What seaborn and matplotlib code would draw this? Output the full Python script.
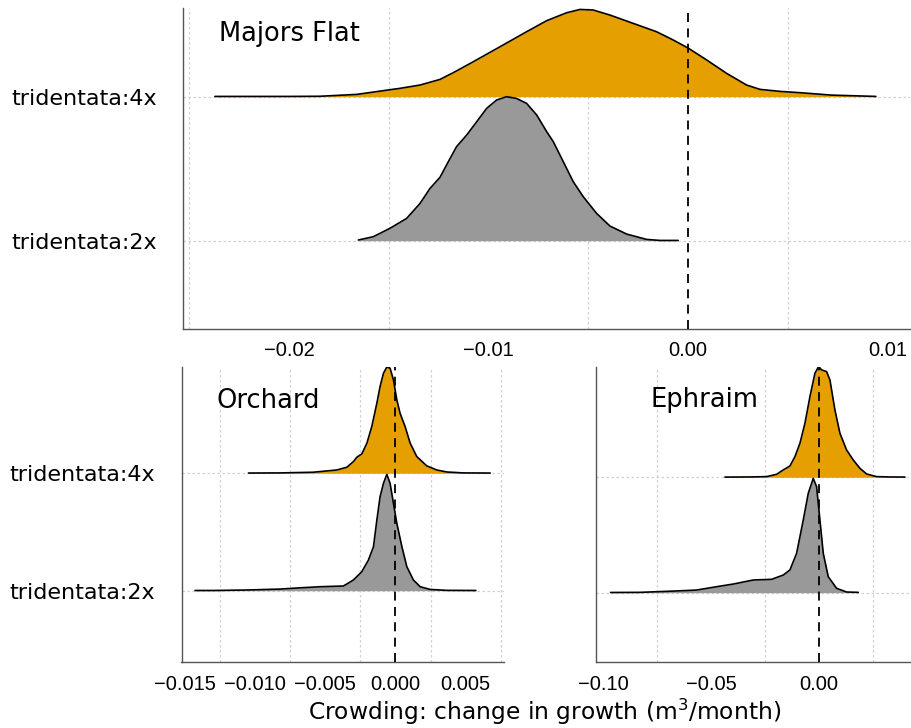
import matplotlib
matplotlib.use("Agg")
import matplotlib.pyplot as plt
import numpy as np
import pandas as pd
import seaborn as sns

# ---------------- data ----------------
ploidy_levels = ["tridentata:2x", "tridentata:4x"]
site_names = ["Majors Flat", "Orchard", "Ephraim"]
ploidy_colors = {"tridentata:4x": "#E69F00", "tridentata:2x": "#999999"}

# Majors Flat
mf_4x_x = [-0.02371, -0.02000, -0.01846, -0.01660, -0.01496, -0.01444, -0.01343, -0.01243,
           -0.01176, -0.01076, -0.00942, -0.00809, -0.00708, -0.00608, -0.00541, -0.00475,
           -0.00391, -0.00274, -0.00157, -0.00074, 0.00003, 0.00094, 0.00194, 0.00294,
           0.00361, 0.00461, 0.00561, 0.00721, 0.00942]
mf_4x_h = [0.002, 0.002, 0.003, 0.016, 0.048, 0.058, 0.081, 0.120,
           0.167, 0.243, 0.347, 0.451, 0.528, 0.583, 0.606, 0.602,
           0.567, 0.509, 0.451, 0.394, 0.336, 0.255, 0.162, 0.081,
           0.051, 0.037, 0.028, 0.011, 0.002]
mf_2x_x = [-0.01652, -0.01577, -0.01494, -0.01410, -0.01343, -0.01293, -0.01243, -0.01201,
           -0.01160, -0.01109, -0.01059, -0.01009, -0.00959, -0.00909, -0.00859, -0.00809,
           -0.00758, -0.00708, -0.00675, -0.00625, -0.00575, -0.00525, -0.00458, -0.00391,
           -0.00307, -0.00207, -0.00140, -0.00049]
mf_2x_h = [0.005, 0.028, 0.086, 0.155, 0.259, 0.363, 0.440, 0.549,
           0.653, 0.734, 0.826, 0.919, 0.977, 1.000, 0.988, 0.954,
           0.873, 0.757, 0.688, 0.549, 0.410, 0.306, 0.190, 0.102,
           0.046, 0.009, 0.002, 0.002]

# Orchard
or_4x_x = [-0.01045, -0.00820, -0.00583, -0.00417, -0.00346, -0.00299, -0.00275, -0.00239,
           -0.00203, -0.00168, -0.00132, -0.00109, -0.00085, -0.00061, -0.00038, -0.00014,
           0.00010, 0.00033, 0.00069, 0.00105, 0.00152, 0.00223, 0.00294, 0.00366,
           0.00484, 0.00674]
or_4x_h = [0.002, 0.003, 0.009, 0.028, 0.051, 0.099, 0.136, 0.165,
           0.256, 0.398, 0.597, 0.739, 0.852, 0.905, 0.895, 0.795,
           0.625, 0.511, 0.398, 0.256, 0.142, 0.063, 0.028, 0.011,
           0.003, 0.002]
or_2x_x = [-0.01425, -0.01294, -0.01057, -0.00820, -0.00701, -0.00536, -0.00370, -0.00346,
           -0.00299, -0.00239, -0.00192, -0.00156, -0.00132, -0.00109, -0.00085, -0.00061,
           -0.00038, -0.00014, 0.00010, 0.00046, 0.00081, 0.00128, 0.00176, 0.00247,
           0.00366, 0.00572]
or_2x_h = [0.002, 0.002, 0.006, 0.014, 0.023, 0.034, 0.040, 0.057,
           0.091, 0.162, 0.261, 0.375, 0.602, 0.801, 0.915, 0.991,
           0.915, 0.744, 0.574, 0.375, 0.205, 0.091, 0.034, 0.011,
           0.003, 0.002]

# Ephraim
ep_4x_x = [-0.04356, -0.03197, -0.02425, -0.01962, -0.01653, -0.01344, -0.01112, -0.00880,
           -0.00649, -0.00417, -0.00185, -0.00015, 0.00124, 0.00355, 0.00510, 0.00741,
           0.00973, 0.01282, 0.01591, 0.01900, 0.02209, 0.02672, 0.03290, 0.03985]
ep_4x_h = [0.002, 0.003, 0.006, 0.026, 0.064, 0.098, 0.179, 0.295,
           0.468, 0.699, 0.902, 0.960, 0.931, 0.916, 0.844, 0.584,
           0.382, 0.237, 0.150, 0.078, 0.029, 0.006, 0.003, 0.002]
ep_2x_x = [-0.09654, -0.08295, -0.06751, -0.05669, -0.04741, -0.03971, -0.03045, -0.02192,
           -0.01653, -0.01344, -0.01035, -0.00726, -0.00494, -0.00263, -0.00108, 0.00046,
           0.00201, 0.00432, 0.00819, 0.01282, 0.01823]
ep_2x_h = [0.002, 0.003, 0.014, 0.023, 0.052, 0.075, 0.110, 0.116,
           0.153, 0.197, 0.341, 0.630, 0.861, 0.991, 0.919, 0.630,
           0.341, 0.139, 0.038, 0.006, 0.003]

mf_ticks = [-0.02, -0.01, 0.00, 0.01]
mf_tick_labels = ["\u22120.02", "\u22120.01", "0.00", "0.01"]
or_ticks = [-0.015, -0.010, -0.005, 0.000, 0.005]
or_tick_labels = ["\u22120.015", "\u22120.010", "\u22120.005", "0.000", "0.005"]
ep_ticks = [-0.10, -0.05, 0.00]
ep_tick_labels = ["\u22120.10", "\u22120.05", "0.00"]

x_label = "Crowding: change in growth (m$^3$/month)"

# ---------------- build table ----------------
curves = {
    ("Majors Flat", "tridentata:4x"): (mf_4x_x, mf_4x_h),
    ("Majors Flat", "tridentata:2x"): (mf_2x_x, mf_2x_h),
    ("Orchard", "tridentata:4x"): (or_4x_x, or_4x_h),
    ("Orchard", "tridentata:2x"): (or_2x_x, or_2x_h),
    ("Ephraim", "tridentata:4x"): (ep_4x_x, ep_4x_h),
    ("Ephraim", "tridentata:2x"): (ep_2x_x, ep_2x_h),
}
rows = []
for (site, ploidy), (xs, hs) in curves.items():
    base = ploidy_levels.index(ploidy) + 1
    for i, (xv, hv) in enumerate(zip(xs, hs)):
        rows.append(dict(site=site, ploidy=ploidy, order=i, x=xv, base=base, y=base + hv))
df = pd.DataFrame(rows)

# ---------------- figure ----------------
sns.set_theme(style="white")
plt.rcParams['font.family'] = ['DejaVu Sans']
plt.rcParams['text.color'] = 'black'

fig = plt.figure(figsize=(9.11, 7.28), dpi=100)
W, H = 911, 728

def px_axes(l, t, r, b):
    return fig.add_axes([l / W, 1 - b / H, (r - l) / W, (b - t) / H])

panels = {
    "Majors Flat": dict(ax=px_axes(183, 8, 910, 329), xlim=(-0.02531, 0.01113), ylim=(0.387, 2.616),
                        ticks=mf_ticks, labels=mf_tick_labels, minor=[-0.025, -0.015, -0.005, 0.005],
                        ylabels=True, title_pos=(0.05, 0.92)),
    "Orchard": dict(ax=px_axes(181.5, 367, 504, 662), xlim=(-0.01521, 0.00772), ylim=(0.393, 2.905),
                    ticks=or_ticks, labels=or_tick_labels, minor=[-0.0125, -0.0075, -0.0025, 0.0025, 0.0075],
                    ylabels=True, title_pos=(0.107, 0.885)),
    "Ephraim": dict(ax=px_axes(596, 367, 910, 662), xlim=(-0.1033, 0.0422), ylim=(0.3995, 2.956),
                    ticks=ep_ticks, labels=ep_tick_labels, minor=[-0.075, -0.025, 0.025],
                    ylabels=False, title_pos=(0.175, 0.888)),
}

grid_kw = dict(color="#d0d0d0", lw=0.9, ls=(0, (2, 2)), zorder=0)

for site in site_names:
    p = panels[site]
    ax = p["ax"]
    ax.set_facecolor("white")
    ax.set_xlim(*p["xlim"])
    ax.set_ylim(*p["ylim"])
    # grid
    for m in p["minor"]:
        ax.axvline(m, **grid_kw)
    for b in (1, 2):
        ax.axhline(b, **grid_kw)
    # ridges: upper (4x) first, lower (2x) on top
    for ploidy in ["tridentata:4x", "tridentata:2x"]:
        sub = df[(df.site == site) & (df.ploidy == ploidy)].sort_values("order")
        ax.fill_between(sub.x, sub.base, sub.y, color=ploidy_colors[ploidy], lw=0, zorder=2)
        sns.lineplot(data=sub, x="x", y="y", sort=False, estimator=None, color="black",
                     lw=1.2, ax=ax, zorder=3)
    ax.axvline(0, color="black", lw=1.3, ls=(0, (5, 3.5)), zorder=4)

    ax.set_xticks(p["ticks"])
    ax.set_xticklabels(p["labels"], family="Liberation Sans", fontsize=14.5)
    ax.set_yticks([1, 2])
    if p["ylabels"]:
        ax.set_yticklabels(ploidy_levels, fontsize=16)
    else:
        ax.set_yticklabels([])
    ax.set_xlabel("")
    ax.set_ylabel("")
    ax.tick_params(axis="x", length=4, width=0.9, color="#333333", pad=5, labelcolor="black")
    ax.tick_params(axis="y", length=5, width=0.9, color="#333333", pad=14, labelcolor="black")
    for s in ["top", "right"]:
        ax.spines[s].set_visible(False)
    for s in ["left", "bottom"]:
        ax.spines[s].set_color("#555555")
        ax.spines[s].set_linewidth(1.0)
    ax.text(p["title_pos"][0], p["title_pos"][1], site, transform=ax.transAxes,
            fontsize=18.5, ha="left", va="center", color="black")

fig.text(544.5 / W, 1 - 720 / H, x_label, ha="center", va="baseline", fontsize=16.8,
         color="black")

fig.savefig("out.png", dpi=100)
